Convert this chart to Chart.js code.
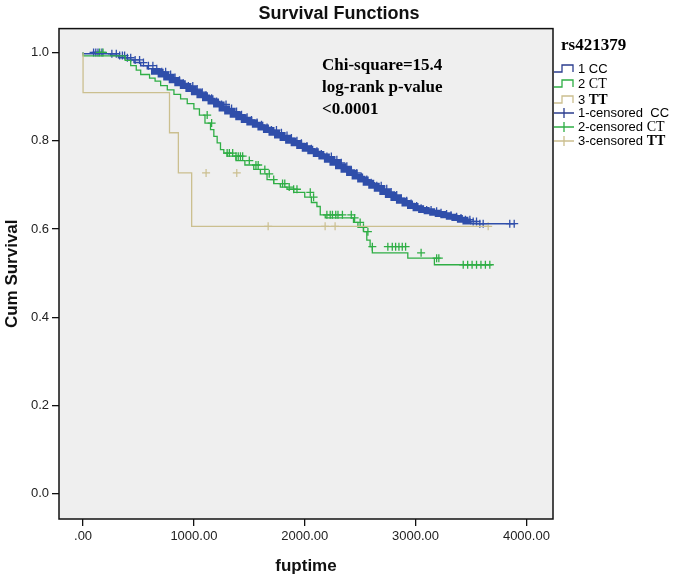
<!DOCTYPE html>
<html>
<head>
<meta charset="utf-8">
<script src="https://cdn.jsdelivr.net/npm/chart.js@4"></script>
<style>
html, body { margin: 0; padding: 0; background: #fff; }
#wrap { position: relative; width: 678px; height: 577px; }
#wrap canvas { position: absolute; left: 0; top: 0; }
.note { position: absolute; left: 322px; top: 54px; font: bold 17px "Liberation Serif", serif; line-height: 22px; color: #000; white-space: nowrap; }
.legTitle { position: absolute; left: 561px; top: 35px; font: bold 17px "Liberation Serif", serif; color: #000; }
.row { position: absolute; left: 553px; height: 16px; white-space: nowrap; font: 13px "Liberation Sans", Arial, sans-serif; color: #000; }
.row svg { position: absolute; left: 0; top: 0; }
.row span.t { position: absolute; left: 25px; top: 0; line-height: 16px; }
.serif { font: 14px "Liberation Serif", serif; }
.serifb { font: bold 14px "Liberation Serif", serif; }
</style>
</head>
<body>
<div id="wrap">
  <canvas id="kmChart" width="678" height="577"></canvas>
  <div class="note">Chi-square=15.4<br>log-rank p-value<br>&lt;0.0001</div>
  <div class="legTitle">rs421379</div>
  <div class="row" style="top:61px"><svg width="24" height="16"><path d="M1 11 H9 V4 H20 V11" fill="none" stroke="#2b3d8f" stroke-width="1.3"/></svg><span class="t">1 CC</span></div>
  <div class="row" style="top:76px"><svg width="24" height="16"><path d="M1 11 H9 V4 H20 V11" fill="none" stroke="#2fae45" stroke-width="1.3"/></svg><span class="t">2 <span class="serif">CT</span></span></div>
  <div class="row" style="top:92px"><svg width="24" height="16"><path d="M1 11 H9 V4 H20 V11" fill="none" stroke="#cbbf8f" stroke-width="1.3"/></svg><span class="t">3 <span class="serifb">TT</span></span></div>
  <div class="row" style="top:105px"><svg width="24" height="16"><path d="M1 8 H21 M11 3 V13" fill="none" stroke="#2b3d8f" stroke-width="1.3"/></svg><span class="t">1-censored&nbsp; CC</span></div>
  <div class="row" style="top:119px"><svg width="24" height="16"><path d="M1 8 H21 M11 3 V13" fill="none" stroke="#2fae45" stroke-width="1.3"/></svg><span class="t">2-censored <span class="serif">CT</span></span></div>
  <div class="row" style="top:133px"><svg width="24" height="16"><path d="M1 8 H21 M11 3 V13" fill="none" stroke="#cbbf8f" stroke-width="1.3"/></svg><span class="t">3-censored <span class="serifb">TT</span></span></div>
</div>
<script>
// Kaplan-Meier curves (time, cum survival)
var ccTime = [0, 250, 320, 400, 460, 520, 580, 640, 700, 750, 800, 850, 900, 950,
    1000, 1050, 1100, 1150, 1200, 1250, 1300, 1350, 1400, 1450, 1500, 1550, 1600, 1650,
    1700, 1750, 1800, 1850, 1900, 1950, 2000, 2050, 2100, 2150, 2200, 2250, 2300, 2350,
    2400, 2450, 2500, 2550, 2600, 2650, 2700, 2750, 2800, 2850, 2900, 2950, 3000, 3050,
    3100, 3150, 3200, 3250, 3300, 3350, 3400, 3450, 3500, 3560, 3900];
var ccSurv = [1.000, 0.997, 0.993, 0.988, 0.983, 0.977, 0.970, 0.963, 0.956, 0.950, 0.943, 0.937, 0.930, 0.924,
    0.917, 0.910, 0.903, 0.896, 0.889, 0.882, 0.873, 0.866, 0.859, 0.853, 0.847, 0.841, 0.836, 0.830,
    0.824, 0.818, 0.812, 0.806, 0.800, 0.794, 0.788, 0.782, 0.776, 0.770, 0.764, 0.757, 0.750, 0.742,
    0.734, 0.727, 0.719, 0.712, 0.705, 0.698, 0.691, 0.684, 0.677, 0.670, 0.664, 0.658, 0.652, 0.647,
    0.643, 0.640, 0.637, 0.634, 0.631, 0.628, 0.625, 0.621, 0.617, 0.612, 0.612];

var ctTime = [0, 380, 430, 480, 520, 600, 650, 700, 760, 820, 880, 940, 1000, 1050, 1100, 1150,
    1180, 1210, 1240, 1270, 1300, 1380, 1460, 1540, 1600, 1660, 1720, 1780, 1840, 1900, 2000,
    2060, 2110, 2140, 2185, 2440, 2480, 2530, 2560, 2590, 2610, 2930, 3170, 3380, 3690];
var ctSurv = [1.000, 0.992, 0.982, 0.970, 0.960, 0.950, 0.942, 0.935, 0.925, 0.915, 0.905, 0.895, 0.884, 0.872, 0.858, 0.840,
    0.825, 0.810, 0.795, 0.780, 0.772, 0.765, 0.755, 0.745, 0.735, 0.725, 0.712, 0.703, 0.695, 0.690, 0.683,
    0.672, 0.660, 0.651, 0.632, 0.625, 0.615, 0.604, 0.594, 0.575, 0.560, 0.546, 0.534, 0.519, 0.519];

var ttTime = [0, 780, 860, 980, 1462, 3655];
var ttSurv = [1.000, 0.909, 0.818, 0.727, 0.606, 0.606];

// censoring times
var ccCensor = [95, 115, 135, 170, 260, 300, 330, 355, 375, 400, 430, 470, 510, 545, 590, 630, 665,
    710, 745, 790, 830, 870, 905, 950, 990, 1030, 1075, 1110, 1160, 1205, 1250, 1290, 1340, 1385,
    1430, 1480, 1520, 1570, 1610, 1660, 1700, 1745, 1790, 1840, 1880, 1930, 1970, 2020, 2060, 2110,
    2150, 2200, 2240, 2290, 2330, 2380, 2420, 2470, 2510, 2560, 2600, 2650, 2690, 2740, 2780, 2830,
    2870, 2920, 2960, 3010, 3050, 3100, 3140, 3190, 3230, 3280, 3320, 3370, 3410, 3450, 3490, 3520,
    3550, 3580, 3610, 3850, 3890];
var ctCensor = [150, 180, 1120, 1160, 1300, 1320, 1350, 1380, 1400, 1420, 1440, 1500, 1560, 1580,
    1640, 1680, 1720, 1800, 1820, 1860, 1900, 1930, 2050, 2080, 2200, 2230, 2250, 2280, 2300, 2340,
    2420, 2450, 2500, 2530, 2570, 2610, 2750, 2790, 2820, 2850, 2880, 2910, 3050, 3190, 3210,
    3430, 3470, 3510, 3550, 3590, 3630, 3670];
var ttCensor = [1110, 1387, 1670, 2184, 2274, 3655];

var xTickValues = [0, 1000, 2000, 3000, 4000];
var xTickLabels = ['.00', '1000.00', '2000.00', '3000.00', '4000.00'];
var yTickValues = [0, 0.2, 0.4, 0.6, 0.8, 1.0];
var yTickLabels = ['0.0', '0.2', '0.4', '0.6', '0.8', '1.0'];

var BLUE = '#2f4eaa', GREEN = '#2fae45', TAN = '#cbbf8f';

function pts(times, surv) {
    return times.map(function (t, i) { return { x: t, y: surv[i] }; });
}
// value of the step curve at time t
function survAt(times, surv, t) {
    var s = surv[0];
    for (var i = 0; i < times.length; i++) {
        if (times[i] <= t) s = surv[i];
    }
    return s;
}
function censorPts(cens, times, surv) {
    return cens.map(function (t) { return { x: t, y: survAt(times, surv, t) }; });
}

var plotFrame = {
    id: 'plotFrame',
    beforeDatasetsDraw: function (chart) {
        var a = chart.chartArea, c = chart.ctx;
        c.save();
        c.fillStyle = '#efefef';
        c.fillRect(a.left, a.top, a.right - a.left, a.bottom - a.top);
        c.restore();
    },
    afterDraw: function (chart) {
        var a = chart.chartArea, c = chart.ctx;
        c.save();
        c.strokeStyle = '#111';
        c.lineWidth = 1.5;
        c.strokeRect(a.left, a.top, a.right - a.left, a.bottom - a.top);
        c.restore();
    }
};

Chart.defaults.font.family = '"Liberation Sans", Arial, sans-serif';
Chart.defaults.color = '#222';

var ctx = document.getElementById('kmChart').getContext('2d');
var kmChart = new Chart(ctx, {
    type: 'scatter',
    data: {
        datasets: [
            {
                label: '3 TT', data: pts(ttTime, ttSurv), showLine: true, stepped: 'after',
                borderColor: TAN, borderWidth: 1.3, pointRadius: 0
            },
            {
                label: '2 CT', data: pts(ctTime, ctSurv), showLine: true, stepped: 'after',
                borderColor: GREEN, borderWidth: 1.3, pointRadius: 0
            },
            {
                label: '1 CC', data: pts(ccTime, ccSurv), showLine: true, stepped: 'after',
                borderColor: BLUE, pointRadius: 0, borderWidth: 1.5,
                segment: {
                    borderWidth: function (s) {
                        var x = s.p0.parsed.x;
                        return (x >= 640 && x < 3500) ? 6 : 1.5;
                    }
                }
            },
            {
                label: '3-censored TT', data: censorPts(ttCensor, ttTime, ttSurv), showLine: false,
                pointStyle: 'cross', pointRadius: 4, borderColor: TAN, borderWidth: 1.2
            },
            {
                label: '2-censored CT', data: censorPts(ctCensor, ctTime, ctSurv), showLine: false,
                pointStyle: 'cross', pointRadius: 4, borderColor: GREEN, borderWidth: 1.3
            },
            {
                label: '1-censored CC', data: censorPts(ccCensor, ccTime, ccSurv), showLine: false,
                pointStyle: 'cross', pointRadius: 4, borderColor: BLUE, borderWidth: 1.3
            }
        ]
    },
    options: {
        responsive: false,
        animation: false,
        layout: { padding: 0 },
        plugins: {
            legend: { display: false },
            tooltip: { enabled: false },
            title: {
                display: true,
                text: 'Survival Functions',
                color: '#111',
                font: { size: 18, weight: 'bold' },
                padding: { top: 3, bottom: 4 }
            }
        },
        scales: {
            x: {
                type: 'linear',
                min: -217,
                max: 4240,
                afterBuildTicks: function (s) {
                    s.ticks = xTickValues.map(function (v) { return { value: v }; });
                },
                afterFit: function (s) { s.height = 58; },
                ticks: {
                    autoSkip: false,
                    maxRotation: 0,
                    padding: 3,
                    font: { size: 13 },
                    callback: function (v, i) { return xTickLabels[i]; }
                },
                grid: { drawOnChartArea: false, drawTicks: true, tickLength: 7, color: '#111', lineWidth: 1.3 },
                border: { display: false },
                title: {
                    display: true, text: 'fuptime', color: '#111',
                    font: { size: 17, weight: 'bold' }, padding: { top: 0, bottom: 0 }
                }
            },
            y: {
                type: 'linear',
                min: -0.057,
                max: 1.054,
                afterBuildTicks: function (s) {
                    s.ticks = yTickValues.map(function (v) { return { value: v }; });
                },
                afterFit: function (s) { s.width = 59; },
                ticks: {
                    autoSkip: false,
                    padding: 3,
                    font: { size: 13 },
                    callback: function (v, i) { return yTickLabels[i]; }
                },
                grid: { drawOnChartArea: false, drawTicks: true, tickLength: 7, color: '#111', lineWidth: 1.3 },
                border: { display: false },
                title: {
                    display: true, text: 'Cum Survival', color: '#111',
                    font: { size: 17, weight: 'bold' }, padding: { top: 2, bottom: 0 }
                }
            },
            // empty right-hand axis that keeps room for the legend
            legendRoom: {
                type: 'linear',
                position: 'right',
                display: true,
                afterFit: function (s) { s.width = 125; },
                ticks: { display: false },
                grid: { display: false },
                border: { display: false }
            }
        }
    },
    plugins: [plotFrame]
});
</script>
</body>
</html>
